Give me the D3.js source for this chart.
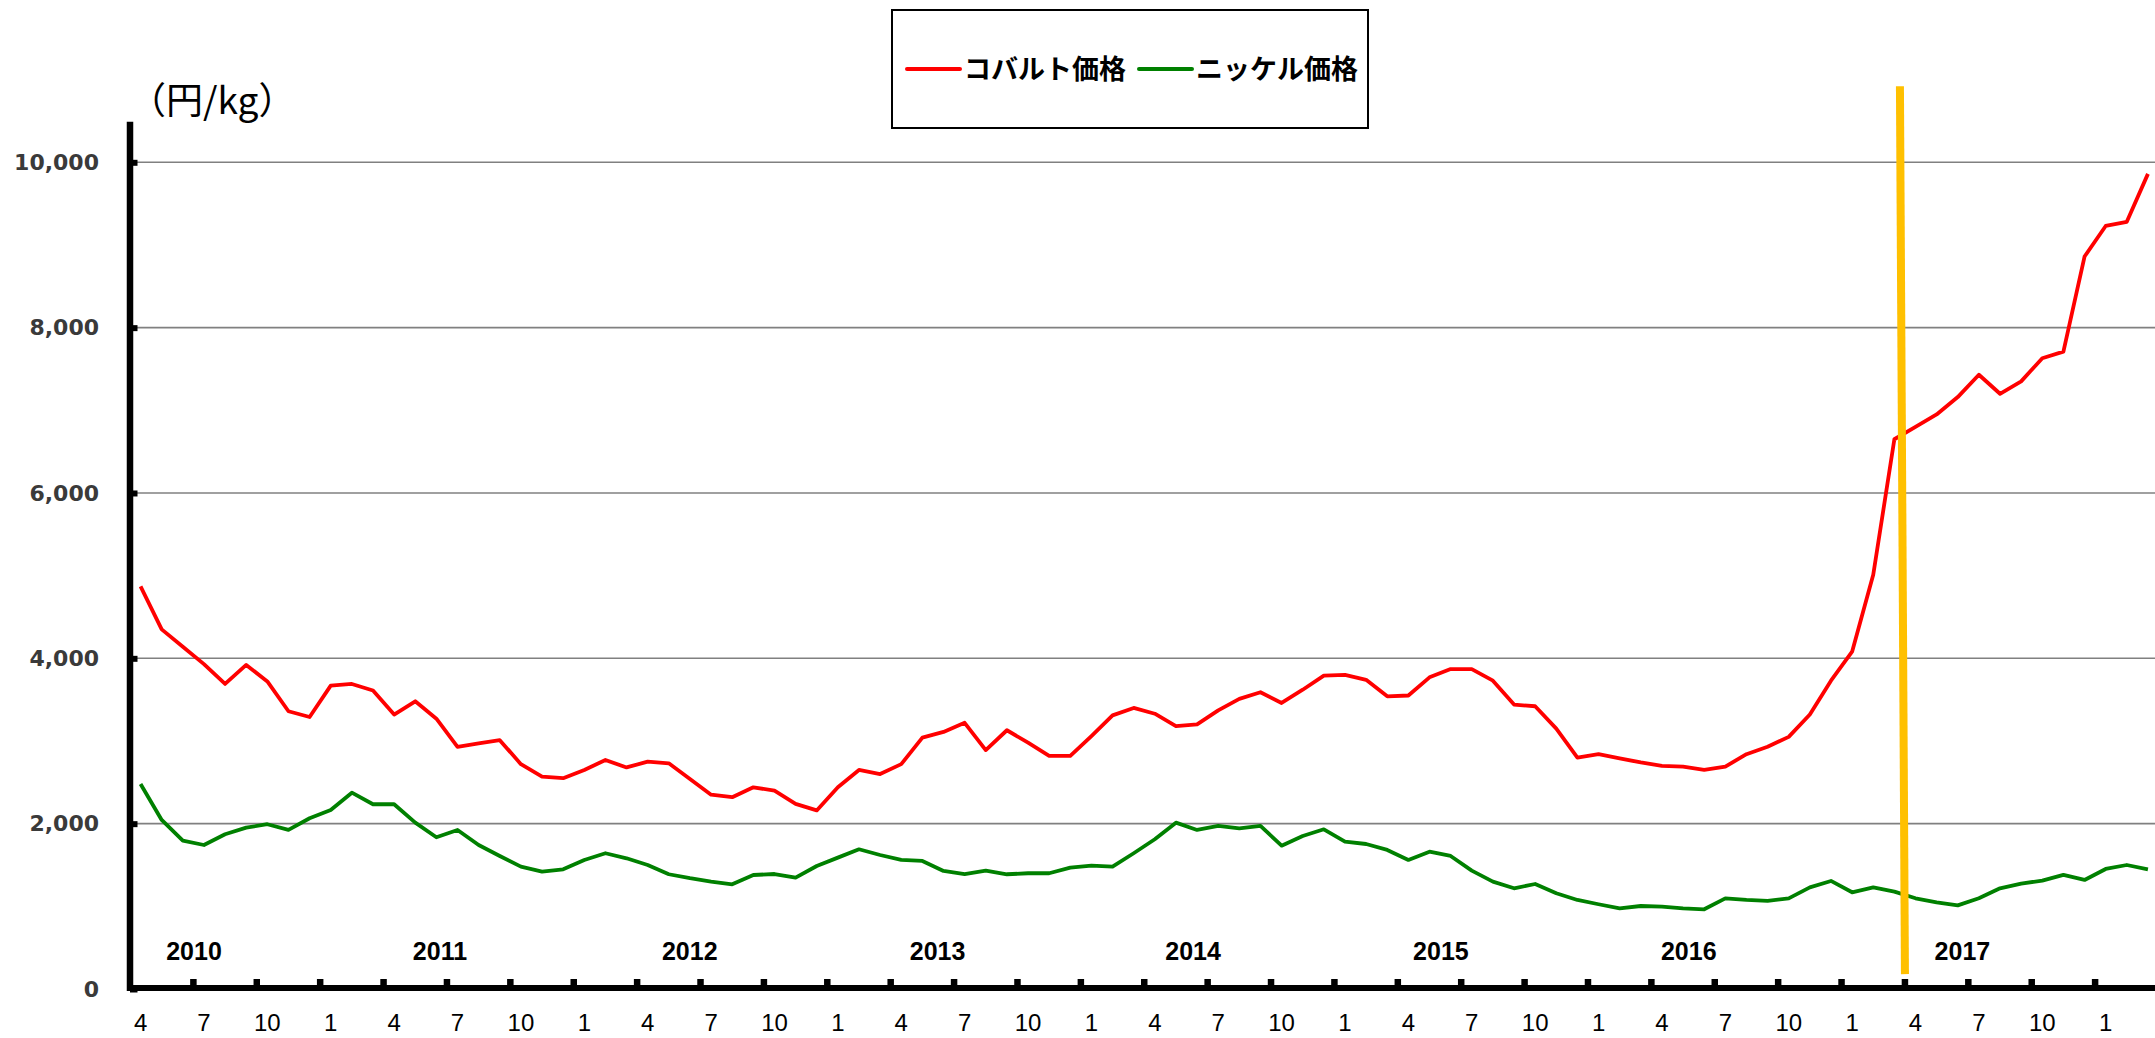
<!DOCTYPE html>
<html>
<head>
<meta charset="utf-8">
<script src="https://cdn.jsdelivr.net/npm/d3@7"></script>
<style>
  body { margin: 0; background: #fff; overflow: hidden; }
  svg { display: block; }
</style>
</head>
<body>
<svg id="chart"></svg>
<script>
// monthly prices from April 2010 to March 2018, yen per kg
const startMonth = 4
const cobalt = [4870,4350,4140,3930,3690,3920,3720,3360,3290,3670,
	3690,3610,3320,3480,3270,2930,2970,3010,2720,2570,
	2550,2650,2770,2680,2750,2730,2540,2350,2320,2440,
	2400,2240,2160,2440,2650,2600,2720,3040,3110,3220,
	2890,3130,2980,2820,2820,3060,3310,3400,3330,3180,
	3200,3370,3510,3590,3460,3620,3790,3800,3740,3540,
	3550,3770,3870,3870,3730,3440,3420,3150,2800,2840,
	2790,2740,2700,2690,2650,2690,2840,2930,3050,3320,
	3730,4080,5010,6650,6800,6950,7160,7430,7200,7350,
	7630,7710,8860,9230,9280,9860]
const nickel = [2480,2045,1795,1742,1872,1952,1993,1924,2065,2166,
	2375,2235,2235,2012,1835,1924,1742,1609,1480,1420,
	1448,1561,1642,1581,1500,1388,1340,1300,1266,1379,
	1391,1347,1488,1589,1690,1621,1561,1549,1428,1391,
	1432,1388,1400,1400,1468,1492,1480,1642,1811,2012,
	1924,1972,1944,1972,1734,1851,1932,1782,1754,1682,
	1561,1661,1609,1432,1299,1218,1270,1158,1077,1025,
	976,1004,996,976,964,1097,1077,1065,1097,1230,
	1307,1170,1230,1178,1097,1049,1011,1097,1218,1275,
	1311,1381,1319,1452,1500,1448]

const seriesNames = ['コバルト価格', 'ニッケル価格']
const seriesColors = ['#ff0000', '#008000']
const yTicks = [0, 2000, 4000, 6000, 8000, 10000]
const years = [2010, 2011, 2012, 2013, 2014, 2015, 2016, 2017]
// where each year label sits, in months from April 2010 (placed by hand in the original)
const yearPos = [3.03, 14.67, 26.49, 38.22, 50.31, 62.04, 73.77, 86.72]
const unitLabel = '（円/kg）'

// orange marker line at the start of April 2017
const markerIndex = 84
const markerRange = [180, 10920]

const width = 2155, height = 1038

const svg = d3.select('#chart')
	.attr('width', width)
	.attr('height', height)

const x = d3.scaleBand()
	.domain(d3.range(cobalt.length))
	.range([130, 2158.5])
	.padding(0)

// continuous version of x for positions between categories
const xm = d3.scaleLinear()
	.domain([0, cobalt.length])
	.range(x.range())

const y = d3.scaleLinear()
	.domain([0, 10000])
	.range([989, 162.3])

const cx = i => x(i) + x.bandwidth() / 2

// gridlines
svg.append('g')
	.selectAll('line')
	.data(yTicks.filter(d => d > 0))
	.join('line')
		.attr('x1', x(0))
		.attr('x2', width)
		.attr('y1', d => y(d))
		.attr('y2', d => y(d))
		.attr('stroke', '#808080')
		.attr('stroke-width', 1.6)

// series
const line = d3.line()
	.x((d, i) => cx(i))
	.y(d => y(d))

svg.append('g')
	.selectAll('path')
	.data([cobalt, nickel])
	.join('path')
		.attr('d', line)
		.attr('fill', 'none')
		.attr('stroke', (d, i) => seriesColors[i])
		.attr('stroke-width', 3.8)
		.attr('stroke-linejoin', 'round')

// marker
svg.append('line')
	.attr('x1', x(markerIndex) - 5)
	.attr('x2', x(markerIndex))
	.attr('y1', y(markerRange[1]))
	.attr('y2', y(markerRange[0]))
	.attr('stroke', '#ffc000')
	.attr('stroke-width', 8)

// y axis
const yAxis = svg.append('g')
	.attr('transform', 'translate(' + x(0) + ',0)')
	.call(d3.axisLeft(y).tickValues(yTicks).tickSize(-7.5).tickPadding(31).tickFormat(d3.format(',')))

yAxis.select('.domain').remove()
yAxis.selectAll('.tick line')
	.attr('stroke', '#000')
	.attr('stroke-width', 6)
yAxis.selectAll('.tick text')
	.attr('fill', '#3a3a3a')
	.style('font-family', '"DejaVu Sans", sans-serif')
	.style('font-weight', 'bold')
	.style('font-size', '22px')

svg.append('line')
	.attr('x1', x(0))
	.attr('x2', x(0))
	.attr('y1', 121.7)
	.attr('y2', y(0) + 2)
	.attr('stroke', '#000')
	.attr('stroke-width', 6.5)

// x axis: labels every 3 months at category centres
const xAxis = svg.append('g')
	.attr('transform', 'translate(0,' + y(0) + ')')
	.call(d3.axisBottom(x)
		.tickValues(d3.range(0, cobalt.length, 3))
		.tickSize(0)
		.tickFormat(i => (startMonth - 1 + i) % 12 + 1))

xAxis.select('.domain').remove()
xAxis.selectAll('.tick text')
	.attr('y', 42)
	.attr('dy', null)
	.attr('fill', '#000')
	.style('font-family', '"Liberation Sans", Arial, sans-serif')
	.style('font-size', '24px')

// tick marks sit on the boundaries between categories
svg.append('g')
	.selectAll('line')
	.data(d3.range(3, cobalt.length, 3))
	.join('line')
		.attr('x1', d => x(d))
		.attr('x2', d => x(d))
		.attr('y1', y(0))
		.attr('y2', y(0) - 10)
		.attr('stroke', '#000')
		.attr('stroke-width', 6.5)

svg.append('line')
	.attr('x1', x(0) - 3)
	.attr('x2', width)
	.attr('y1', y(0) - 1)
	.attr('y2', y(0) - 1)
	.attr('stroke', '#000')
	.attr('stroke-width', 6)

// year labels
svg.append('g')
	.selectAll('text')
	.data(years)
	.join('text')
		.attr('x', (d, i) => xm(yearPos[i]))
		.attr('y', 960)
		.attr('text-anchor', 'middle')
		.style('font-family', '"Liberation Sans", Arial, sans-serif')
		.style('font-weight', 'bold')
		.style('font-size', '25px')
		.text(d => d)

// unit
svg.append('text')
	.attr('x', x(0) - 1)
	.attr('y', 114)
	.style('font-family', '"Noto Sans CJK JP", sans-serif')
	.style('font-size', '37px')
	.text(unitLabel)

// legend
const legend = svg.append('g')

legend.append('rect')
	.attr('x', 892)
	.attr('y', 10)
	.attr('width', 476)
	.attr('height', 118)
	.attr('fill', '#fff')
	.attr('stroke', '#000')
	.attr('stroke-width', 2)

const legendX = [907, 1139]

legend.selectAll('line')
	.data(seriesNames)
	.join('line')
		.attr('x1', (d, i) => legendX[i])
		.attr('x2', (d, i) => legendX[i] + 53)
		.attr('y1', 69)
		.attr('y2', 69)
		.attr('stroke', (d, i) => seriesColors[i])
		.attr('stroke-width', 4)
		.attr('stroke-linecap', 'round')

legend.selectAll('text')
	.data(seriesNames)
	.join('text')
		.attr('x', (d, i) => legendX[i] + 57)
		.attr('y', 79)
		.style('font-family', '"Noto Sans CJK JP", sans-serif')
		.style('font-weight', 'bold')
		.style('font-size', '27px')
		.text(d => d)
</script>
</body>
</html>
